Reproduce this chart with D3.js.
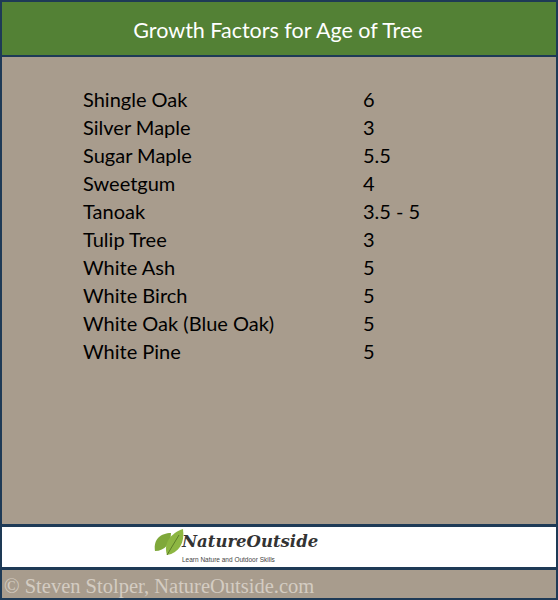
<!DOCTYPE html>
<html><head><meta charset="utf-8">
<script src="https://cdn.jsdelivr.net/npm/d3@7"></script>
<style>body{margin:0;background:#fff}</style>
</head><body>
<script>
var trees = ["Shingle Oak","Silver Maple","Sugar Maple","Sweetgum","Tanoak","Tulip Tree","White Ash","White Birch","White Oak (Blue Oak)","White Pine"];
var factors = ["6","3","5.5","4","3.5 - 5","3","5","5","5","5"];
var title = "Growth Factors for Age of Tree";

var W = 558, H = 600;
var svg = d3.select("body").append("svg").attr("width", W).attr("height", H);

// panels
svg.append("rect").attr("x",0).attr("y",0).attr("width",W).attr("height",H).attr("fill","#1e3a56");
svg.append("rect").attr("x",2).attr("y",2).attr("width",W-4).attr("height",53).attr("fill","#538135");
svg.append("rect").attr("x",2).attr("y",57).attr("width",W-4).attr("height",467).attr("fill","#a89c8d");
svg.append("rect").attr("x",2).attr("y",527).attr("width",W-4).attr("height",40).attr("fill","#ffffff");
svg.append("rect").attr("x",2).attr("y",570).attr("width",W-4).attr("height",28).attr("fill","#a89c8d");

svg.append("text").attr("x",W/2 - 1).attr("y",38).attr("text-anchor","middle")
  .attr("font-family","Lato, 'Open Sans', sans-serif").attr("font-size",21.5).attr("fill","#fff").text(title);

var y = d3.scaleBand().domain(trees).range([86, 366]);
var rows = svg.selectAll("g.row").data(trees).enter().append("g").attr("class","row")
  .attr("transform", function(d){ return "translate(0," + (y(d) + y.bandwidth()/2) + ")"; });
rows.append("text").attr("x",83).attr("dy","0.35em")
  .attr("font-family","Lato, 'Open Sans', sans-serif").attr("font-size",20).attr("fill","#000")
  .text(function(d){ return d; });
rows.append("text").attr("x",363).attr("dy","0.35em")
  .attr("font-family","Lato, 'Open Sans', sans-serif").attr("font-size",20).attr("fill","#000")
  .text(function(d,i){ return factors[i]; });

// logo
var leaf = svg.append("g").attr("transform","translate(153,529)");
leaf.append("path").attr("d","M2,22 C0,10 8,4 18,4 C18,14 12,22 2,22 Z").attr("fill","#7fa83a");
leaf.append("path").attr("d","M14,26 C10,14 18,4 30,0 C32,14 26,24 14,26 Z").attr("fill","#8db642");
leaf.append("path").attr("d","M14,26 L26,6").attr("stroke","#5d7f28").attr("stroke-width",1).attr("fill","none");
svg.append("text").attr("x",182).attr("y",547).attr("font-family","'DejaVu Serif', serif")
  .attr("font-style","italic").attr("font-weight","bold").attr("font-size",16.5).attr("fill","#333").text("NatureOutside");
svg.append("text").attr("x",182).attr("y",562).attr("font-family","'Liberation Sans', sans-serif")
  .attr("font-size",6.5).attr("fill","#444").text("Learn Nature and Outdoor Skills");

svg.append("text").attr("x",4).attr("y",593).attr("font-family","'Liberation Serif', serif")
  .attr("font-size",20.5).attr("fill","#d4ccc2").text("\u00a9 Steven Stolper, NatureOutside.com");
</script>
</body></html>
